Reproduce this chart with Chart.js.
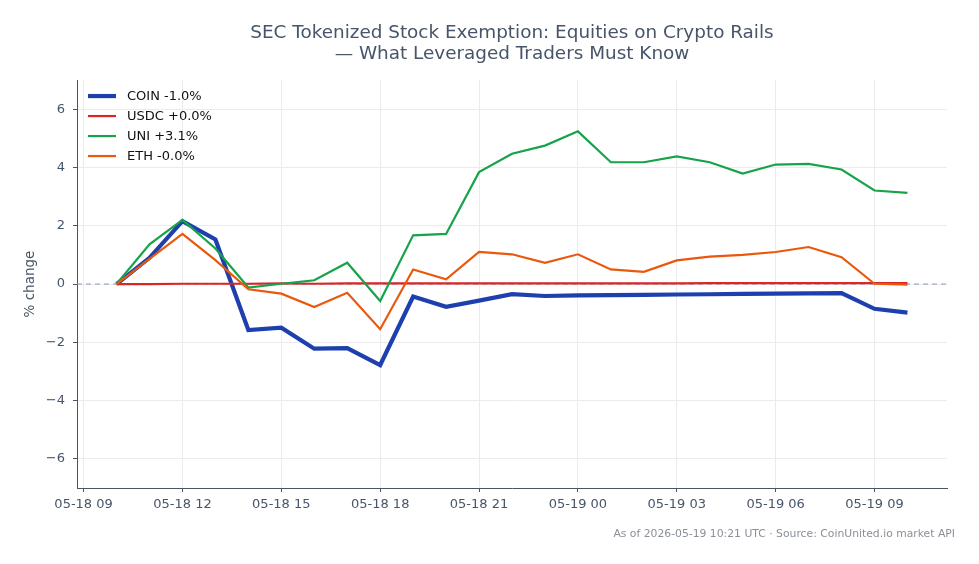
<!DOCTYPE html>
<html>
<head>
<meta charset="utf-8">
<script src="https://cdn.jsdelivr.net/npm/chart.js@4.4.1/dist/chart.umd.min.js"></script>
<style>
  html, body { margin: 0; padding: 0; background: #ffffff; }
  #wrap { width: 979px; height: 564px; }
</style>
</head>
<body>
<div id="wrap"><canvas id="grafico" width="979" height="564"></canvas></div>
<script>
// Horas desde 05-18 00:00 (10 = 05-18 10:00, 34 = 05-19 10:00)
const horas = [10, 11, 12, 13, 14, 15, 16, 17, 18, 19, 20, 21, 22,
               23, 24, 25, 26, 27, 28, 29, 30, 31, 32, 33, 34];

const coin = [0, 0.9, 2.16, 1.53, -1.58, -1.5, -2.22, -2.2, -2.78, -0.43, -0.78, -0.57, -0.35,
              -0.41, -0.39, -0.38, -0.37, -0.36, -0.35, -0.34, -0.33, -0.32, -0.31, -0.85, -0.98];
const usdc = [0, 0.0, 0.01, 0.01, 0.01, 0.02, 0.01, 0.02, 0.02, 0.02, 0.02, 0.02, 0.02,
              0.02, 0.02, 0.02, 0.02, 0.02, 0.03, 0.03, 0.03, 0.03, 0.03, 0.03, 0.03];
const uni = [0, 1.36, 2.2, 1.22, -0.12, 0.01, 0.13, 0.73, -0.58, 1.67, 1.72, 3.84, 4.47,
             4.75, 5.24, 4.18, 4.18, 4.38, 4.18, 3.79, 4.1, 4.12, 3.93, 3.21, 3.13];
const eth = [0, 0.86, 1.72, 0.82, -0.18, -0.33, -0.79, -0.3, -1.55, 0.5, 0.16, 1.1, 1.02,
             0.73, 1.02, 0.5, 0.42, 0.81, 0.94, 1.0, 1.1, 1.27, 0.92, 0.01, -0.02];

const etiquetas = ['COIN -1.0%', 'USDC +0.0%', 'UNI +3.1%', 'ETH -0.0%'];
const colores = ['#1e40af', '#dc2626', '#16a34a', '#ea580c'];
const ticksX = [9, 12, 15, 18, 21, 24, 27, 30, 33];
const ticksY = [-6, -4, -2, 0, 2, 4, 6];

const textoGris = '#475569';
const rejilla = '#e9ebef';

function puntos(valores) {
    return valores.map((v, i) => ({ x: horas[i], y: v }));
}

function etiquetaHora(h) {
    const dia = 18 + Math.floor(h / 24);
    const hh = h % 24;
    return '05-' + dia + ' ' + String(hh).padStart(2, '0');
}

const serie = (i, valores, ancho, orden) => ({
    label: etiquetas[i],
    data: puntos(valores),
    borderColor: colores[i],
    backgroundColor: colores[i],
    borderWidth: ancho,
    pointRadius: 0,
    tension: 0,
    order: orden,
});

// leyenda dentro del área del gráfico, arriba a la izquierda
const leyenda = {
    id: 'leyendaInterna',
    afterDatasetsDraw(chart) {
        const ctx = chart.ctx;
        const area = chart.chartArea;
        ctx.save();
        ctx.font = '13px "DejaVu Sans"';
        ctx.textBaseline = 'middle';
        ctx.fillStyle = '#111111';
        chart.data.datasets.slice(0, 4).forEach((ds, i) => {
            const y = area.top + 16 + 20 * i;
            ctx.strokeStyle = ds.borderColor;
            ctx.lineWidth = ds.borderWidth;
            ctx.beginPath();
            ctx.moveTo(area.left + 11, y);
            ctx.lineTo(area.left + 39, y);
            ctx.stroke();
            ctx.fillText(ds.label, area.left + 50, y + 1);
        });
        ctx.restore();
    },
};

// nota al pie, abajo a la derecha
const notaPie = {
    id: 'notaPie',
    afterDraw(chart) {
        const ctx = chart.ctx;
        ctx.save();
        ctx.font = '10.8px "DejaVu Sans"';
        ctx.fillStyle = '#8a9099';
        ctx.textAlign = 'right';
        ctx.textBaseline = 'middle';
        ctx.fillText('As of 2026-05-19 10:21 UTC \u00b7 Source: CoinUnited.io market API', 955, 534);
        ctx.restore();
    },
};

Chart.defaults.font.family = '"DejaVu Sans", sans-serif';

new Chart(document.getElementById('grafico').getContext('2d'), {
    type: 'line',
    data: {
        datasets: [
            serie(0, coin, 4.2, 4),
            serie(1, usdc, 2.2, 3),
            serie(2, uni, 2.2, 2),
            serie(3, eth, 2.2, 1),
            {
                label: 'cero',
                data: [{ x: 8.8, y: 0 }, { x: 35.2, y: 0 }],
                borderColor: '#8c9bb3',
                borderWidth: 1,
                borderDash: [5, 4],
                pointRadius: 0,
                order: 6,
            },
        ],
    },
    options: {
        responsive: false,
        animation: false,
        layout: { padding: { left: 18, right: 32, top: 0, bottom: 46 } },
        plugins: {
            tooltip: { enabled: false },
            legend: { display: false },
            title: {
                display: true,
                fullSize: false,
                text: ['SEC Tokenized Stock Exemption: Equities on Crypto Rails',
                       '\u2014 What Leveraged Traders Must Know'],
                color: textoGris,
                font: { size: 18.4, weight: 'normal', lineHeight: 1.17 },
                padding: { top: 22, bottom: 15 },
            },
        },
        scales: {
            x: {
                type: 'linear',
                min: 8.8,
                max: 35.2,
                afterBuildTicks(scale) {
                    scale.ticks = ticksX.map((v) => ({ value: v }));
                },
                afterFit(scale) { scale.height = 30; },
                ticks: {
                    color: textoGris,
                    font: { size: 13 },
                    padding: 5,
                    maxRotation: 0,
                    autoSkip: false,
                    callback: (v) => etiquetaHora(v),
                },
                grid: { color: rejilla, tickColor: textoGris, tickLength: 4 },
                border: { display: true, color: textoGris, width: 1 },
            },
            y: {
                min: -7,
                max: 7,
                afterBuildTicks(scale) {
                    scale.ticks = ticksY.map((v) => ({ value: v }));
                },
                afterFit(scale) { scale.width = 59; },
                ticks: {
                    color: textoGris,
                    font: { size: 13 },
                    padding: 8,
                    callback: (v) => String(v).replace('-', '\u2212'),
                },
                title: {
                    display: true,
                    text: '% change',
                    color: textoGris,
                    font: { size: 13.5 },
                    padding: { top: 4, bottom: 4 },
                },
                grid: { color: rejilla, tickColor: textoGris, tickLength: 4 },
                border: { display: true, color: textoGris, width: 1 },
            },
        },
    },
    plugins: [leyenda, notaPie],
});
</script>
</body>
</html>
